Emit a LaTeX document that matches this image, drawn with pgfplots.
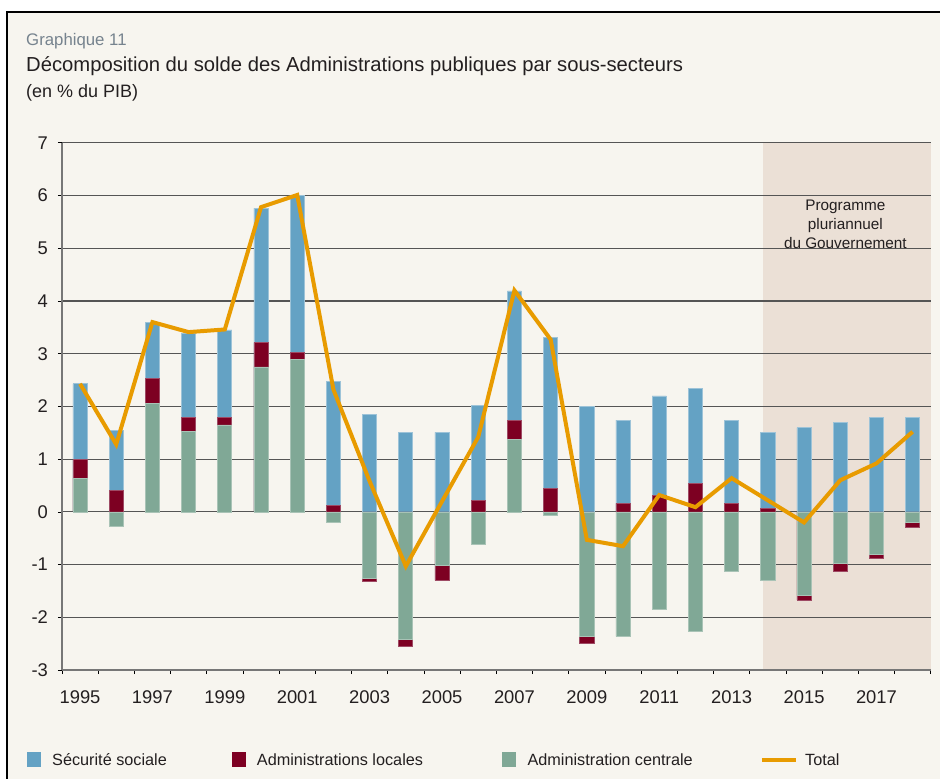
\documentclass[border=0pt]{standalone}
\usepackage{fontspec}
\setmainfont{Liberation Sans}
\usepackage{pgfplots}
\pgfplotsset{compat=1.18}
\usepackage{pgfplotstable}
\definecolor{bg}{HTML}{F7F5EF}
\definecolor{shadecol}{HTML}{EBE0D6}
\definecolor{secu}{HTML}{64A2C4}
\definecolor{secuedge}{HTML}{9DC3D8}
\definecolor{loc}{HTML}{7D0022}
\definecolor{locedge}{HTML}{9E4A64}
\definecolor{cent}{HTML}{80A896}
\definecolor{centedge}{HTML}{A9C3B6}
\definecolor{tot}{HTML}{E89B00}
\definecolor{gridcol}{HTML}{555555}
\definecolor{axcol}{HTML}{777777}
\definecolor{graytxt}{HTML}{76838E}
\definecolor{txt}{HTML}{231F20}

% year, green pos, red pos (cum.), blue top (cum.), red neg (cum.), green neg
\pgfplotstableread{
year gp rp bt rn gn
1995 0.64 1.00 2.43 nan nan
1996 nan 0.40 1.55 nan -0.28
1997 2.05 2.53 3.59 nan nan
1998 1.52 1.79 3.39 nan nan
1999 1.65 1.79 3.45 nan nan
2000 2.75 3.21 5.76 nan nan
2001 2.89 3.03 6.00 nan nan
2002 nan 0.13 2.48 nan -0.20
2003 nan nan 1.84 -1.31 -1.26
2004 nan nan 1.51 -2.55 -2.41
2005 nan nan 1.51 -1.30 -1.02
2006 nan 0.21 2.02 nan -0.61
2007 1.38 1.73 4.19 nan nan
2008 nan 0.45 3.31 nan -0.06
2009 nan nan 2.00 -2.50 -2.37
2010 nan 0.16 1.74 nan -2.36
2011 nan 0.31 2.20 nan -1.85
2012 nan 0.54 2.34 nan -2.27
2013 nan 0.16 1.74 nan -1.12
2014 nan 0.07 1.51 nan -1.30
2015 nan nan 1.60 -1.67 -1.58
2016 nan nan 1.69 -1.12 -0.98
2017 nan nan 1.79 -0.89 -0.80
2018 nan nan 1.79 -0.29 -0.20
}\bars

\pgfplotstableread{
year total
1995 2.43
1996 1.28
1997 3.60
1998 3.41
1999 3.46
2000 5.78
2001 6.01
2002 2.32
2003 0.58
2004 -1.03
2005 0.20
2006 1.42
2007 4.20
2008 3.27
2009 -0.53
2010 -0.65
2011 0.32
2012 0.09
2013 0.64
2014 0.22
2015 -0.20
2016 0.60
2017 0.92
2018 1.52
}\total

\begin{document}
\begin{tikzpicture}
\fill[white] (0pt,0pt) rectangle (705.75pt,585pt);
\fill[bg] (5.25pt,0pt) rectangle (705.75pt,576pt);
\draw[black, line width=1.9pt] (5.25pt,0pt) -- (5.25pt,576pt) -- (705.75pt,576pt);
% shaded projection period (2014-2018)
\fill[shadecol] (573pt,81.75pt) rectangle (699pt,477.75pt);

\node[anchor=base west, inner sep=0pt, text=graytxt, font=\fontsize{12.6}{14}\selectfont] at (19.5pt,550.5pt) {Graphique 11};
\node[anchor=base west, inner sep=0pt, text=txt, font=\fontsize{15.2}{17}\selectfont] at (19.5pt,531pt) {Décomposition du solde des Administrations publiques par sous-secteurs};
\node[anchor=base west, inner sep=0pt, text=txt, font=\fontsize{13.5}{16}\selectfont] at (19.5pt,512pt) {(en \% du PIB)};

\begin{axis}[
  at={(46.5pt,81.75pt)}, anchor=south west,
  scale only axis, width=652.5pt, height=396pt,
  xmin=1994.5, xmax=2018.5, ymin=-3, ymax=7,
  ybar, bar width=0.39,
  unbounded coords=discard,
  axis x line*=bottom, axis y line*=left,
  x axis line style={draw=axcol, line width=1.3pt},
  y axis line style={draw=axcol, line width=1pt},
  ytick={-3,-2,...,7},
  ymajorgrids,
  major grid style={draw=gridcol, line width=0.8pt},
  xtick={1994.5,1995.5,...,2018.5},
  xticklabels={},
  extra x ticks={1995,1997,...,2017},
  extra x tick labels={1995,1997,1999,2001,2003,2005,2007,2009,2011,2013,2015,2017},
  extra x tick style={major tick length=0pt, grid=none},
  tick align=outside,
  major tick length=3pt,
  tick style={draw=black, line width=0.6pt},
  /pgf/number format/assume math mode=true,
  ticklabel style={font=\fontsize{13.8}{16}\selectfont, text=txt},
  xticklabel style={yshift=-12pt},
  yticklabel style={xshift=-4pt},
]
\addplot[bar shift=0pt, fill=secu, draw=secuedge, line width=0.6pt] table[x=year,y=bt] {\bars};
\addplot[bar shift=0pt, fill=loc, draw=locedge, line width=0.6pt] table[x=year,y=rp] {\bars};
\addplot[bar shift=0pt, fill=cent, draw=centedge, line width=0.6pt] table[x=year,y=gp] {\bars};
\addplot[bar shift=0pt, fill=loc, draw=locedge, line width=0.6pt] table[x=year,y=rn] {\bars};
\addplot[bar shift=0pt, fill=cent, draw=centedge, line width=0.6pt] table[x=year,y=gn] {\bars};
\addplot[sharp plot, draw=tot, line width=3pt, mark=none] table[x=year,y=total] {\total};
\node[align=center, text=txt, font=\fontsize{11.5}{14.3}\selectfont] at (axis cs:2016.14,5.46) {Programme\\pluriannuel\\du Gouvernement};
\end{axis}

% legend
\fill[secu] (20.25pt,9pt) rectangle (30.75pt,20.25pt);
\node[anchor=west, inner sep=0pt, text=txt, font=\fontsize{12.2}{14}\selectfont] at (39pt,14.6pt) {Sécurité sociale};
\fill[loc] (174pt,9pt) rectangle (184.5pt,20.25pt);
\node[anchor=west, inner sep=0pt, text=txt, font=\fontsize{12.2}{14}\selectfont] at (192.75pt,14.6pt) {Administrations locales};
\fill[cent] (377.25pt,9pt) rectangle (387.75pt,20.25pt);
\node[anchor=west, inner sep=0pt, text=txt, font=\fontsize{12.2}{14}\selectfont] at (396pt,14.6pt) {Administration centrale};
\draw[tot, line width=3pt] (572.25pt,14.6pt) -- (597.75pt,14.6pt);
\node[anchor=west, inner sep=0pt, text=txt, font=\fontsize{12.2}{14}\selectfont] at (604.5pt,14.6pt) {Total};
\end{tikzpicture}
\end{document}
